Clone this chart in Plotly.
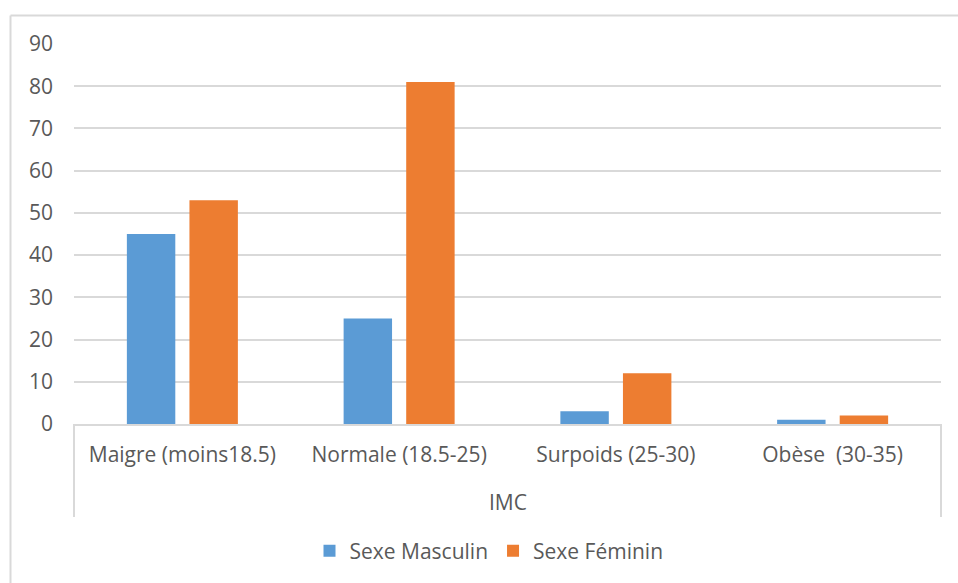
import plotly.graph_objects as go

# IMC categories and counts per sex
categories = ["Maigre (moins18.5)", "Normale (18.5-25)", "Surpoids (25-30)", "Obèse  (30-35)"]
masculin = [45, 25, 3, 1]
feminin = [53, 81, 12, 2]
y_ticks = [0, 10, 20, 30, 40, 50, 60, 70, 80, 90]

TEXT = "#595959"
GRID = "#D9D9D9"
FONT = "Open Sans"

W, H = 958, 583
L, R, T, B = 74, 17, 44, 159
pw, ph = W - L - R, H - T - B


def px_x(x):
    return (x - L) / pw


def px_y(y):
    return (H - B - y) / ph


fig = go.Figure()
fig.add_trace(go.Bar(name="Sexe Masculin", x=categories, y=masculin,
                     marker=dict(color="#5B9BD5", line=dict(width=0))))
fig.add_trace(go.Bar(name="Sexe Féminin", x=categories, y=feminin,
                     marker=dict(color="#ED7D31", line=dict(width=0))))

# outer chart frame (left and top edges)
fig.add_shape(type="line", xref="paper", yref="paper",
              x0=px_x(10.5), x1=px_x(10.5), y0=px_y(600), y1=px_y(15.5),
              line=dict(color=GRID, width=2))
fig.add_shape(type="line", xref="paper", yref="paper",
              x0=px_x(10.5), x1=px_x(990), y0=px_y(15.5), y1=px_y(15.5),
              line=dict(color=GRID, width=2))

# group bracket around the category labels
for xp in (74, 941):
    fig.add_shape(type="line", xref="paper", yref="paper",
                  x0=px_x(xp), x1=px_x(xp), y0=px_y(424), y1=px_y(517),
                  line=dict(color=GRID, width=2))

fig.add_annotation(text="IMC", xref="paper", yref="paper",
                   x=px_x(507.5), y=px_y(502), showarrow=False,
                   xanchor="center", yanchor="middle",
                   font=dict(family=FONT, size=21, color=TEXT))

fig.update_layout(
    width=W, height=H,
    margin=dict(l=L, r=R, t=T, b=B, pad=0),
    paper_bgcolor="white", plot_bgcolor="white",
    barmode="group", bargap=0.4226, bargroupgap=0.226,
    font=dict(family=FONT, size=21, color=TEXT),
    showlegend=True,
    legend=dict(orientation="h", x=px_x(489), xanchor="center",
                y=px_y(551), yanchor="middle",
                font=dict(family=FONT, size=21, color=TEXT),
                itemwidth=30, traceorder="normal"),
    xaxis=dict(showgrid=False, showline=True, linecolor=GRID, linewidth=2,
               ticks="", ticklabelstandoff=11, tickfont=dict(size=21, color=TEXT),
               zeroline=False),
    yaxis=dict(range=[0, 90], tickvals=y_ticks, showgrid=True, gridcolor=GRID,
               gridwidth=2, zeroline=False, showline=False, ticks="",
               ticklabelstandoff=20, tickfont=dict(size=21, color=TEXT)),
)

fig.write_html("out.html")
